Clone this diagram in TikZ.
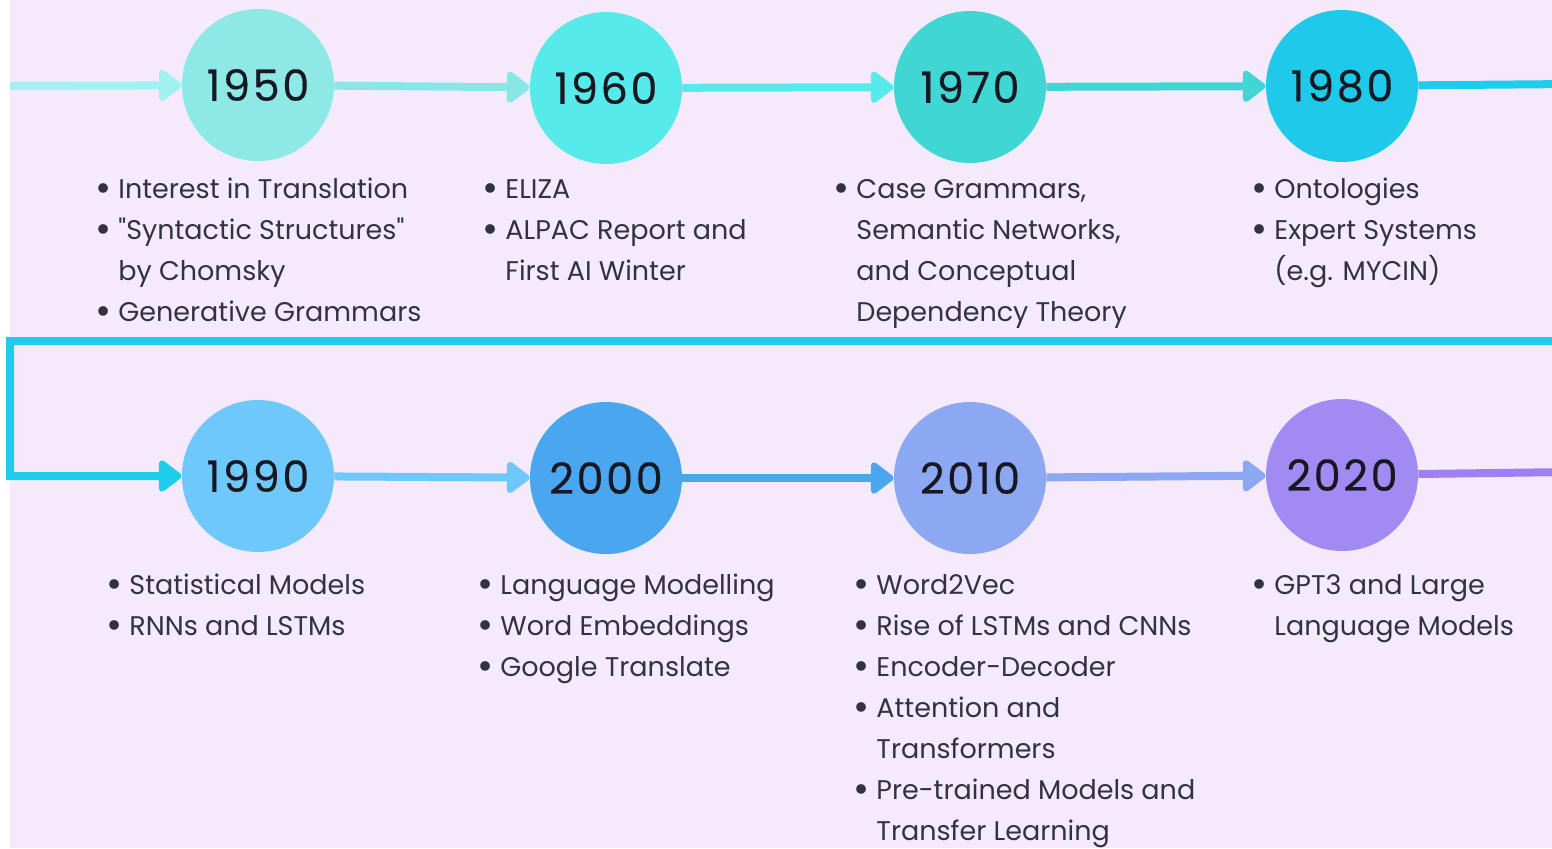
\documentclass[tikz,border=0pt]{standalone}
\usepackage{fontspec}
\setmainfont{Poppins}
\newfontfamily\yearfont[LetterSpace=6,FakeBold=0.3]{Poppins}
\usetikzlibrary{arrows.meta}
\definecolor{bg}{HTML}{F5EAFC}
\definecolor{txt}{HTML}{33333F}
\definecolor{yr}{HTML}{181822}
\definecolor{cA}{HTML}{8EE8E6}
\definecolor{cB}{HTML}{57EAEA}
\definecolor{cC}{HTML}{40D6D4}
\definecolor{cD}{HTML}{1EC9EA}
\definecolor{cE}{HTML}{6FC8FA}
\definecolor{cF}{HTML}{4AA6EE}
\definecolor{cG}{HTML}{8DA8F2}
\definecolor{cH}{HTML}{A18AF1}
\definecolor{sIn}{HTML}{A0F2F2}
\definecolor{sA}{HTML}{88E6E6}
\definecolor{wrap}{HTML}{1ECCEC}
\definecolor{sOut}{HTML}{A080F0}
\newcommand\bu{\makebox[11.5pt][l]{\raisebox{-0.11em}{\scalebox{1.45}{•}}}}
\newcommand\ind{\hspace*{11.5pt}}
\tikzset{
  year/.style={circle, minimum size=76pt, inner sep=0pt, draw=none, text=yr,
    font=\yearfont\fontsize{21.5}{24}\selectfont},
  conn/.style={line width=4pt, -{Triangle[length=12.5pt,width=18pt,round]}},
  plain/.style={line width=4pt},
  itemlist/.style={anchor=north west, inner sep=0pt, align=left, text=txt,
    font=\fontsize{13.5}{20.5}\selectfont}
}
\begin{document}
\begin{tikzpicture}[x=0.5pt,y=-0.5pt]
\useasboundingbox (0,0) rectangle (1552,848);
\clip (0,0) rectangle (1552,848);
\fill[white] (0,0) rectangle (10,848);
\fill[bg] (10,0) rectangle (1552,848);

% circles
\node[year, fill=cA] (y1950) at (258,85) {1950};
\node[year, fill=cB] (y1960) at (606,88) {1960};
\node[year, fill=cC] (y1970) at (970,87) {1970};
\node[year, fill=cD] (y1980) at (1342,86) {1980};
\node[year, fill=cE] (y1990) at (258,476) {1990};
\node[year, fill=cF] (y2000) at (606,478) {2000};
\node[year, fill=cG] (y2010) at (970,478) {2010};
\node[year, fill=cH] (y2020) at (1342,475) {2020};

% free ends
\coordinate (start) at (10,86);
\coordinate (r1) at (1570,84);
\coordinate (r2) at (1570,341);
\coordinate (l1) at (10,341);
\coordinate (l2) at (10,476);
\coordinate (end) at (1570,472);

% connectors
\draw[conn, sIn] (start) -- (y1950);
\draw[conn, sA] (y1950) -- (y1960);
\draw[conn, cB] (y1960) -- (y1970);
\draw[conn, cC] (y1970) -- (y1980);
\draw[conn, wrap] (y1980) -- (r1) -- (r2) -- (l1) -- (l2) -- (y1990);
\draw[conn, cE] (y1990) -- (y2000);
\draw[conn, cF] (y2000) -- (y2010);
\draw[conn, cG] (y2010) -- (y2020);
\draw[plain, sOut] (y2020) -- (end);

% texts
\node[itemlist] (t1950) at (95,169.5) {\strut\bu Interest in Translation\\
  \bu \textquotedbl Syntactic Structures\textquotedbl\\ \ind by Chomsky\\ \bu Generative Grammars};
\node[itemlist] (t1960) at (482,169.5) {\strut\bu ELIZA\\
  \bu ALPAC Report and\\ \ind First AI Winter};
\node[itemlist] (t1970) at (833,169.5) {\strut\bu Case Grammars,\\
  \ind Semantic Networks,\\ \ind and Conceptual\\ \ind Dependency Theory};
\node[itemlist] (t1980) at (1251,169.5) {\strut\bu Ontologies\\
  \bu Expert Systems\\ \ind (e.g. MYCIN)};
\node[itemlist] (t1990) at (106,565.5) {\strut\bu Statistical Models\\
  \bu RNNs and LSTMs};
\node[itemlist] (t2000) at (477,565.5) {\strut\bu Language Modelling\\
  \bu Word Embeddings\\ \bu Google Translate};
\node[itemlist] (t2010) at (853,565.5) {\strut\bu Word2Vec\\
  \bu Rise of LSTMs and CNNs\\ \bu Encoder-Decoder\\ \bu Attention and\\
  \ind Transformers\\ \bu Pre-trained Models and\\ \ind Transfer Learning};
\node[itemlist] (t2020) at (1251,565.5) {\strut\bu GPT3 and Large\\
  \ind Language Models};
\end{tikzpicture}
\end{document}
